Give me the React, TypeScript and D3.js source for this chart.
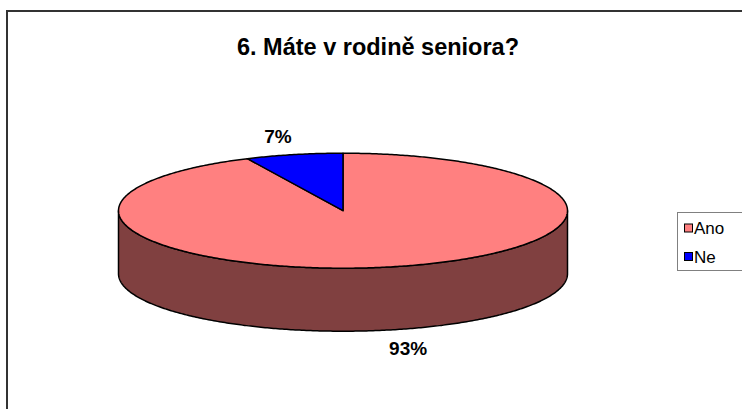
import React from "react";
import * as d3 from "d3";

const title = "6. Máte v rodině seniora?";
const categories = ["Ano", "Ne"];
const values = [93, 7];
const topColors = ["#FF8080", "#0000FF"];
const sideColors = ["#804040", "#000080"];

const W = 742;
const H = 409;
const cx = 343;
const cy = 210.7;
const rx = 224.5;
const ry = 57.5;
const depth = 63;

function pt(theta: number, k = 1, dy = 0): [number, number] {
  return [cx + rx * k * Math.sin(theta), cy - ry * k * Math.cos(theta) + dy];
}

function arcPoints(a0: number, a1: number, dy = 0): [number, number][] {
  const n = Math.max(2, Math.ceil(Math.abs(a1 - a0) / 0.01));
  const s = d3.scaleLinear().domain([0, n]).range([a0, a1]);
  return d3.range(n + 1).map((i) => pt(s(i), 1, dy));
}

export default function App() {
  const pie = d3
    .pie<number>()
    .sort(null)
    .startAngle(0)
    .endAngle(2 * Math.PI)
    .value((d) => d);
  const arcs = pie(values);
  const line = d3.line();

  const sides = arcs
    .map((a, i) => {
      const s = Math.max(a.startAngle, Math.PI / 2);
      const e = Math.min(a.endAngle, (3 * Math.PI) / 2);
      if (e <= s) return null;
      const top = arcPoints(s, e);
      const bot = arcPoints(e, s, depth);
      return { i, d: line([...top, ...bot])! + "Z" };
    })
    .filter(Boolean) as { i: number; d: string }[];

  const tops = arcs.map((a, i) => {
    const pts = [[cx, cy] as [number, number], ...arcPoints(a.startAngle, a.endAngle)];
    return { i, d: line(pts)! + "Z" };
  });

  const labels = arcs.map((a, i) => {
    const mid = (a.startAngle + a.endAngle) / 2;
    const front = Math.cos(mid) < 0;
    const [x, y] = pt(mid, 1.33, front ? depth : 0);
    return { x, y, text: `${values[i]}%` };
  });

  return (
    <svg
      width={W}
      height={H}
      style={{ position: "absolute", left: 0, top: 0, background: "#fff" }}
      fontFamily="Arial, 'Liberation Sans', sans-serif"
    >
      <rect x={0} y={0} width={W} height={H} fill="#fff" />
      <rect x={7} y={11} width={W + 20} height={H + 20} fill="#fff" stroke="#333" strokeWidth={2} />
      <text x={378} y={55} textAnchor="middle" fontSize={23.5} fontWeight="bold" fill="#000">
        {title}
      </text>
      {sides.map((s) => (
        <path key={"s" + s.i} d={s.d} fill={sideColors[s.i]} stroke="#000" strokeWidth={1.5} strokeLinejoin="round" />
      ))}
      {tops.map((t) => (
        <path key={"t" + t.i} d={t.d} fill={topColors[t.i]} stroke="#000" strokeWidth={1.5} strokeLinejoin="round" />
      ))}
      {labels.map((l, i) => (
        <text key={"l" + i} x={l.x} y={l.y} dy="0.35em" textAnchor="middle" fontSize={19} fontWeight="bold" fill="#000">
          {l.text}
        </text>
      ))}
      <g>
        <rect x={677.5} y={212.5} width={80} height={58} fill="#fff" stroke="#808080" strokeWidth={1} />
        {categories.map((c, i) => (
          <g key={c} transform={`translate(684, ${223.5 + i * 28.5})`}>
            <rect x={0.5} y={0.5} width={8} height={8} fill={topColors[i]} stroke="#000" strokeWidth={1} />
            <text x={10} y={4.5} dy="0.36em" fontSize={17} fill="#000">
              {c}
            </text>
          </g>
        ))}
      </g>
    </svg>
  );
}
